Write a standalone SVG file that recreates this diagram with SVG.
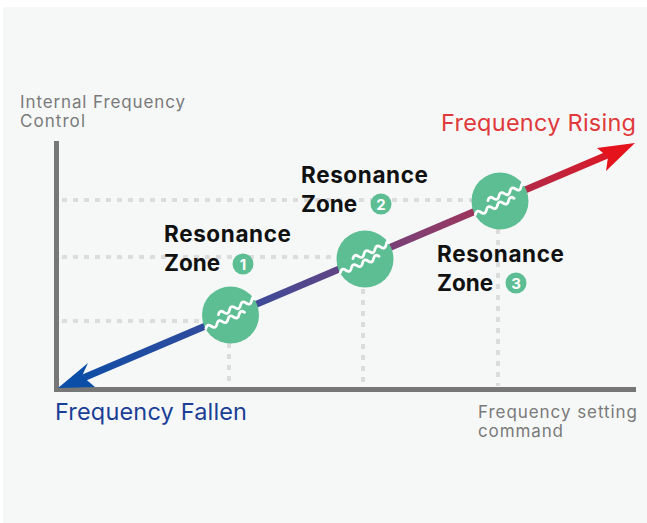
<svg xmlns="http://www.w3.org/2000/svg" width="647" height="523" viewBox="0 0 647 523">
<defs>
<style>
.grid{stroke:#dcdcdc;stroke-width:4;stroke-dasharray:5 6;fill:none}
.axis{stroke:#777;stroke-width:5;fill:none}
.lbl{font-family:Inter,"Liberation Sans",sans-serif;font-size:17px;fill:#7a7a7a}
.big{font-family:Inter,"Liberation Sans",sans-serif;font-size:23.5px}
.zone{font-family:Inter,"Liberation Sans",sans-serif;font-size:22.5px;font-weight:bold;fill:#111}
.node{fill:#5dbd93}
.wave{stroke:#fff;stroke-width:2.8;fill:none;stroke-linecap:round}
.badge{fill:#5dbd93}
.num{font-family:Inter,"Liberation Sans",sans-serif;font-size:15px;font-weight:bold;fill:#fff;text-anchor:middle}
</style>
<linearGradient id="g" gradientUnits="userSpaceOnUse" x1="60" y1="388" x2="635" y2="143">
<stop offset="0" stop-color="#0a4ea8"/>
<stop offset="0.35" stop-color="#3f4a98"/>
<stop offset="0.65" stop-color="#8a3d6c"/>
<stop offset="1" stop-color="#e5131c"/>
</linearGradient>
<g id="wv">
<path class="wave" d="M-28 3 q3 -4.5 6 0 t6 0 t6 0 t6 0 t6 0 t6 0 t6 0"/>
<path class="wave" d="M-11 -5 q3 -4.5 6 0 t6 0 t6 0 t6 0 t6 0 t6 0 t3 -1"/>
</g>
</defs>
<rect x="3" y="7" width="644" height="516" fill="#f6f8f8"/>
<g id="grid">
<line class="grid" x1="62" y1="200" x2="472" y2="200"/>
<line class="grid" x1="62" y1="257" x2="336" y2="257"/>
<line class="grid" x1="62" y1="321" x2="202" y2="321"/>
<line class="grid" x1="229" y1="343" x2="229" y2="386"/>
<line class="grid" x1="363" y1="289" x2="363" y2="386"/>
<line class="grid" x1="498" y1="229" x2="498" y2="386"/>
</g>
<g id="axes">
<line class="axis" x1="56.5" y1="141" x2="56.5" y2="392"/>
<line class="axis" x1="54" y1="389.5" x2="636" y2="389.5"/>
</g>
<g id="connectors">
<line x1="76" y1="381" x2="612" y2="153" stroke="url(#g)" stroke-width="7"/>
<polygon points="58,388 88,363 82,376 95,387" fill="#0a4ea8"/>
<polygon points="635,143 597,148 608,157 606,171" fill="#e5131c"/>
</g>
<g id="zone1">
<circle class="node" cx="230.5" cy="315" r="28.5"/>
<use href="#wv" transform="translate(230.5 315) rotate(-22.8)"/>
<text class="zone" x="164" y="242" textLength="127">Resonance</text>
<text class="zone" x="164" y="271">Zone</text>
<circle class="badge" cx="243" cy="264" r="10.5"/>
<text class="num" x="243" y="269.5">1</text>
</g>
<g id="zone2">
<circle class="node" cx="365" cy="259" r="28.5"/>
<use href="#wv" transform="translate(365 259) rotate(-22.8)"/>
<text class="zone" x="301" y="183" textLength="127">Resonance</text>
<text class="zone" x="301" y="212">Zone</text>
<circle class="badge" cx="381" cy="204" r="10.5"/>
<text class="num" x="381" y="209.5">2</text>
</g>
<g id="zone3">
<circle class="node" cx="500" cy="201" r="28.5"/>
<use href="#wv" transform="translate(500 201) rotate(-22.8)"/>
<text class="zone" x="437" y="262" textLength="127">Resonance</text>
<text class="zone" x="437" y="291">Zone</text>
<circle class="badge" cx="516" cy="283" r="10.5"/>
<text class="num" x="516" y="288.5">3</text>
</g>
<g id="labels">
<text class="lbl" x="20" y="108" textLength="165">Internal Frequency</text>
<text class="lbl" x="20" y="127" textLength="65">Control</text>
<text class="lbl" x="478" y="418" textLength="159">Frequency setting</text>
<text class="lbl" x="478" y="437" textLength="85">command</text>
<text class="big" x="441" y="131" fill="#e0393b" textLength="195">Frequency Rising</text>
<text class="big" x="55" y="420" fill="#1b3f96" textLength="192">Frequency Fallen</text>
</g>
</svg>
